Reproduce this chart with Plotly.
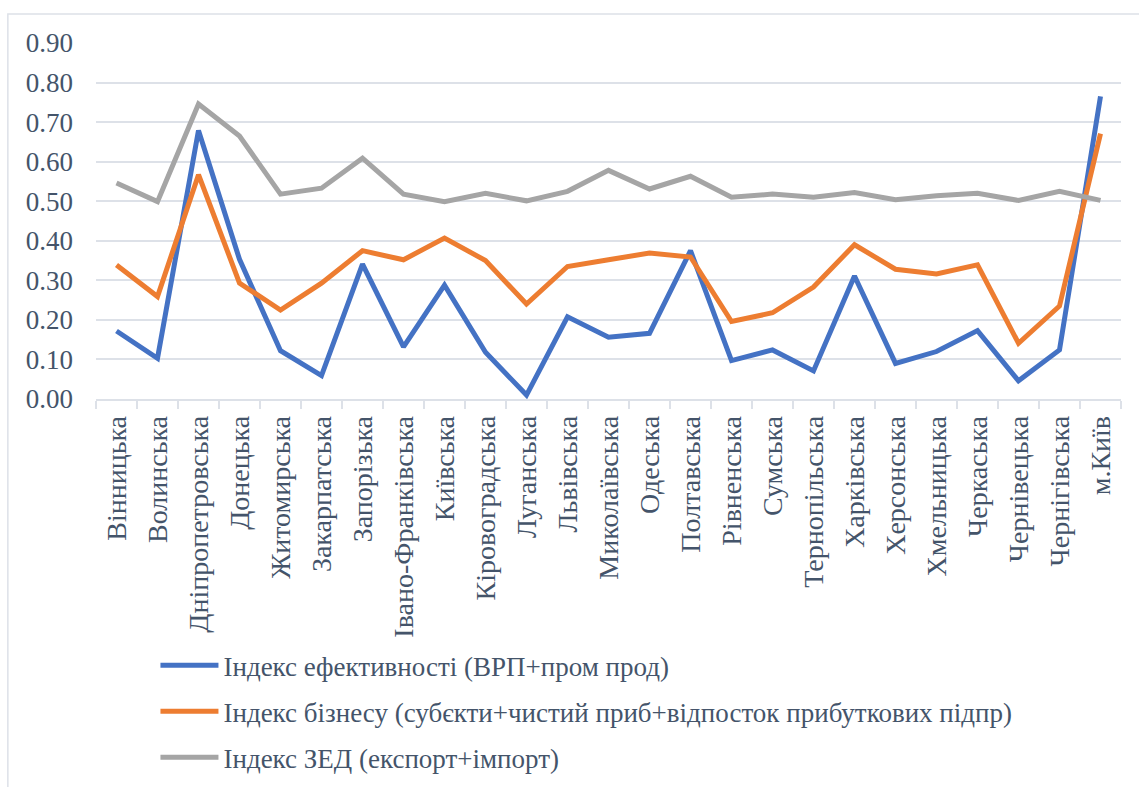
import plotly.graph_objects as go

regions = [
    "Вінницька", "Волинська", "Дніпропетровська", "Донецька", "Житомирська",
    "Закарпатська", "Запорізька", "Івано-Франківська", "Київська", "Кіровоградська",
    "Луганська", "Львівська", "Миколаївська", "Одеська", "Полтавська",
    "Рівненська", "Сумська", "Тернопільська", "Харківська", "Херсонська",
    "Хмельницька", "Черкаська", "Чернівецька", "Чернігівська", "м.Київ",
]

eff_index = [0.172, 0.103, 0.679, 0.353, 0.122, 0.059, 0.341, 0.132, 0.288, 0.118,
             0.010, 0.208, 0.156, 0.166, 0.375, 0.097, 0.124, 0.071, 0.311, 0.090,
             0.120, 0.173, 0.046, 0.124, 0.765]
biz_index = [0.339, 0.259, 0.567, 0.293, 0.225, 0.293, 0.375, 0.352, 0.407, 0.350,
             0.240, 0.335, 0.352, 0.369, 0.359, 0.196, 0.218, 0.283, 0.390, 0.328,
             0.316, 0.339, 0.141, 0.235, 0.671]
zed_index = [0.546, 0.499, 0.746, 0.665, 0.518, 0.533, 0.609, 0.518, 0.499, 0.520,
             0.501, 0.525, 0.578, 0.531, 0.563, 0.510, 0.518, 0.510, 0.522, 0.504,
             0.514, 0.520, 0.502, 0.525, 0.502]

series_names = [
    "Індекс ефективності (ВРП+пром прод)",
    "Індекс бізнесу (суб\u0454кти+чистий приб+відпосток прибуткових підпр)",
    "Індекс ЗЕД (експорт+імпорт)",
]
colors = ["#4472C4", "#ED7D31", "#A5A5A5"]

text_color = "#44546A"
grid_color = "#DDE1E8"
font_family = "Liberation Serif"

fig = go.Figure()
for i, (name, vals) in enumerate(zip(series_names, [eff_index, biz_index, zed_index])):
    fig.add_trace(go.Scatter(
        x=regions, y=vals, name=name, mode="lines",
        line=dict(color=colors[i], width=5),
        legendgroup=f"g{i}",
    ))

# outer chart border like the Excel chart frame
fig.add_shape(type="rect", xref="paper", yref="paper",
              x0=-0.086, x1=1.03, y0=-1.2, y1=1.0815,
              line=dict(color="#DDE1E8", width=1.5), layer="below")

fig.update_layout(
    width=1139, height=787,
    margin=dict(l=96, r=18, t=43, b=388, autoexpand=False),
    paper_bgcolor="white", plot_bgcolor="white",
    font=dict(family=font_family, size=27, color=text_color),
    showlegend=True,
    legend=dict(
        orientation="v", x=0.058, xanchor="left", y=-0.68, yanchor="top",
        itemwidth=58, tracegroupgap=8,
        font=dict(family=font_family, size=27, color=text_color),
        bgcolor="rgba(0,0,0,0)",
    ),
)

fig.update_xaxes(
    type="category", range=[-0.5, len(regions) - 0.5],
    tickangle=-90, tickson="boundaries", ticks="outside", ticklen=8,
    tickcolor=grid_color, tickwidth=1.5,
    showline=True, linecolor=grid_color, linewidth=1.5,
    showgrid=False, automargin=False, ticklabelstandoff=4,
    tickfont=dict(family=font_family, size=28, color=text_color),
)
fig.update_yaxes(
    range=[0, 0.9], dtick=0.1, tick0=0, tickformat=".2f",
    showgrid=True, gridcolor=grid_color, gridwidth=1.5,
    zeroline=False, showline=False, automargin=False,
    ticks="", ticklabelstandoff=22,
    tickfont=dict(family=font_family, size=27, color=text_color),
)

fig.write_html("out.html", config={"displayModeBar": False},
               post_script="document.body.style.margin='0';")
